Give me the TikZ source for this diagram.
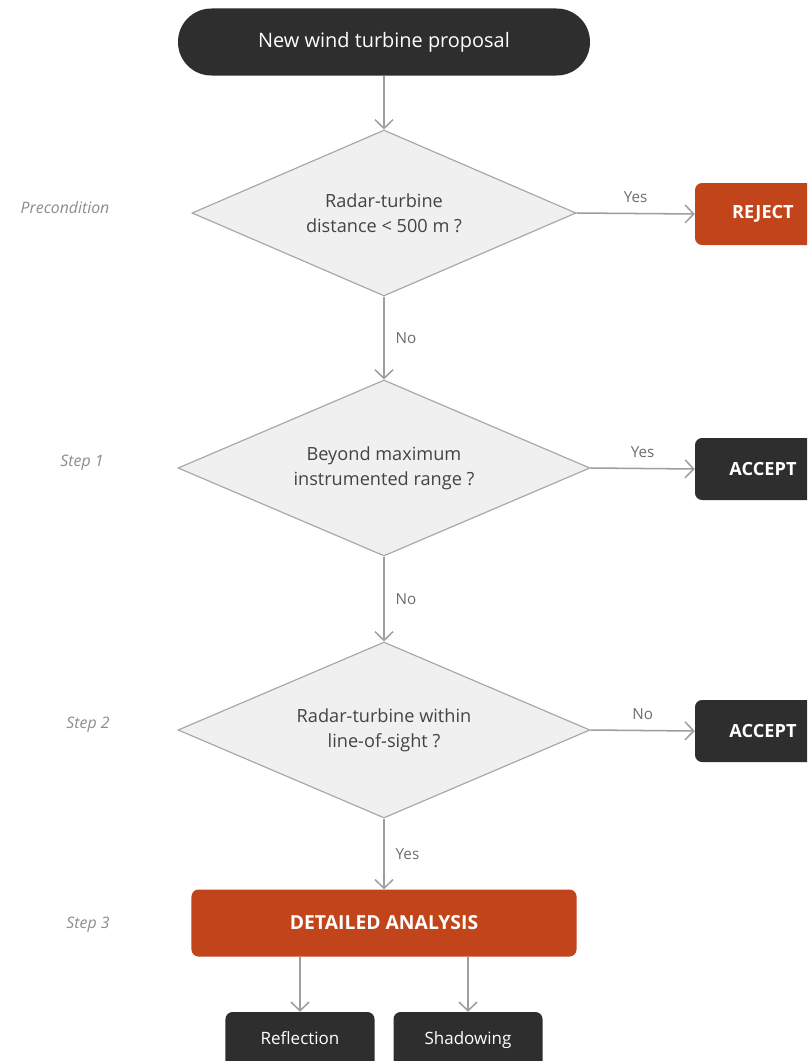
\documentclass[tikz,border=0pt]{standalone}
\usepackage{fontspec}
\setmainfont{Open Sans}
\usepackage{tikz}
\usetikzlibrary{arrows.meta,positioning,shapes.geometric}
\definecolor{boxdark}{HTML}{2E2E2E}
\definecolor{boxorange}{HTML}{C1441B}
\definecolor{diafill}{HTML}{F0F0F0}
\definecolor{diadraw}{HTML}{A8A8A8}
\definecolor{arrgray}{HTML}{9E9E9E}
\definecolor{lblgray}{HTML}{6E6E6E}
\definecolor{stepgray}{HTML}{8C8C8C}
\tikzset{
  startbox/.style={fill=boxdark,text=white,rounded corners=1cm,
                   minimum width=12.36cm,minimum height=2.01cm,
                   font=\fontsize{17}{20}\selectfont},
  decision/.style={diamond,draw=diadraw,fill=diafill,line width=1pt,
                   shape aspect=2.3,inner sep=0pt,align=center,
                   text=boxdark!90,font=\fontsize{15.5}{21}\selectfont},
  outbox/.style={rounded corners=6pt,minimum width=4.08cm,minimum height=1.86cm,
                 text=white,font=\fontsize{15.5}{18}\selectfont\bfseries},
  darkout/.style={outbox,fill=boxdark},
  redout/.style={outbox,fill=boxorange},
  subbox/.style={fill=boxdark,rounded corners=6pt,minimum width=4.47cm,
                 minimum height=1.8cm,text height=0.75em,text depth=0.25em,
                 text=white,font=\fontsize{14.5}{17}\selectfont},
  steplbl/.style={text=stepgray,font=\fontsize{13.5}{16}\selectfont\itshape},
  anslbl/.style={text=lblgray,font=\fontsize{13}{15}\selectfont},
  flowarr/.style={-{Straight Barb[length=2.6mm,width=5.4mm]},draw=arrgray,line width=1.3pt}
}
\begin{document}
\begin{tikzpicture}[x=0.03cm,y=-0.03cm]
  \useasboundingbox (0,0) rectangle (807,1061);
  \clip (0,0) rectangle (807,1061);
  \fill[white] (0,0) rectangle (807,1061);

  % main column
  \node[startbox] (start) at (384,42) {New wind turbine proposal};
  \node[decision,minimum width=11.52cm,minimum height=4.98cm] (pre) at (384,213)
    {Radar-turbine\\distance < 500 m ?};
  \node[decision,minimum width=12.36cm,minimum height=5.28cm] (range) at (384,468)
    {Beyond maximum\\instrumented range ?};
  \node[decision,minimum width=12.36cm,minimum height=5.28cm] (los) at (384,730)
    {Radar-turbine within\\line-of-sight ?};
  \node[redout,minimum width=11.55cm,minimum height=2.01cm,
        font=\fontsize{16.5}{19}\selectfont\bfseries] (detail) at (384,923)
    {DETAILED ANALYSIS};

  % outcomes on the right
  \node[redout] (reject) at (763,214) {REJECT};
  \node[darkout] (acc1) at (763,469) {ACCEPT};
  \node[darkout] (acc2) at (763,731) {ACCEPT};

  % sub-analyses
  \node[subbox] (refl) at (300,1042) {Reflection};
  \node[subbox] (shad) at (468,1042) {Shadowing};

  % step labels
  \foreach \t/\x/\y in {Precondition/65/208,Step 1/82/463,Step 2/88/725,Step 3/88/925} {
    \node[steplbl] at (\x,\y) {\t};
  }

  % connectors
  \draw[flowarr] (start) -- (pre);
  \draw[flowarr] (pre) -- node[anslbl,right=6pt] {No} (range);
  \draw[flowarr] (range) -- node[anslbl,right=6pt] {No} (los);
  \draw[flowarr] (los) -- node[anslbl,right=6pt] {Yes} (detail);
  \draw[flowarr] (pre.east) -- node[anslbl,above=5pt] {Yes} (reject.west);
  \draw[flowarr] (range.east) -- node[anslbl,above=5pt] {Yes} (acc1.west);
  \draw[flowarr] (los.east) -- node[anslbl,above=5pt] {No} (acc2.west);
  \draw[flowarr] (detail.south -| refl) -- (refl);
  \draw[flowarr] (detail.south -| shad) -- (shad);
\end{tikzpicture}
\end{document}
